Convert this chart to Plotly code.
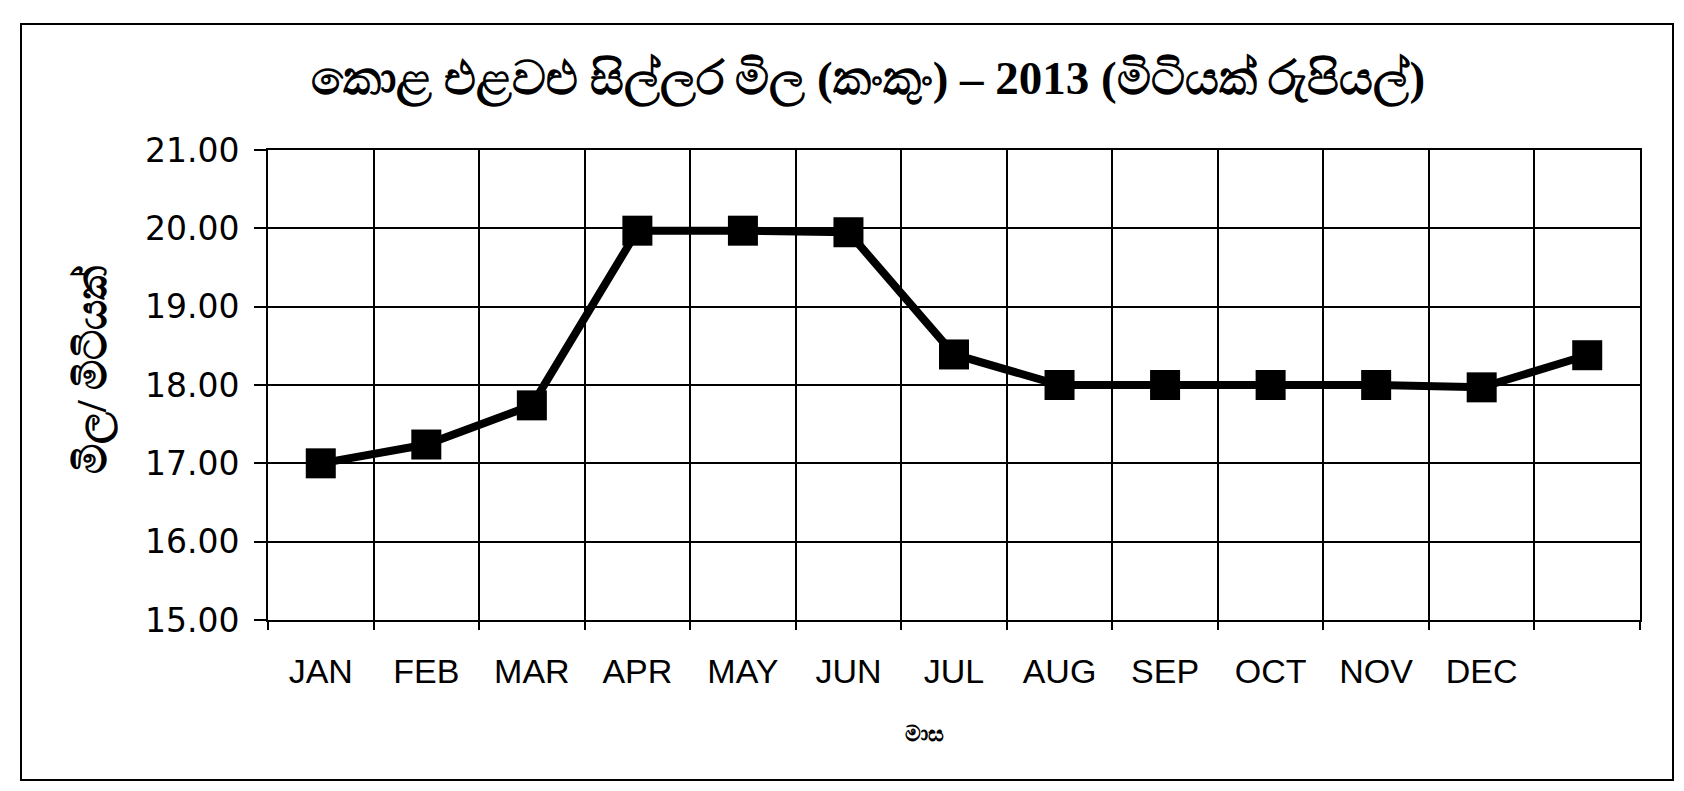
import plotly.graph_objects as go

months = ["JAN", "FEB", "MAR", "APR", "MAY", "JUN", "JUL", "AUG", "SEP", "OCT", "NOV", "DEC", " "]
prices = [17.00, 17.24, 17.74, 19.97, 19.97, 19.95, 18.39, 18.00, 18.00, 18.00, 18.00, 17.97, 18.38]
y_ticks = [15, 16, 17, 18, 19, 20, 21]

title_text = "කොළ එළවළු සිල්ලර මිල (කංකුං) – 2013 (මිටියක් රුපියල්)"
y_title = "මිල/ මිටියක්"
x_title = "මාස"

OFF = 8  # page body margin
W, H = 1684 - OFF, 791 - OFF
L = 268 - OFF
R = W - (1640 - OFF)
T = 150 - OFF
B = H - (620 - OFF)
pw, ph = W - L - R, H - T - B

def px(x):
    return (x - OFF - L) / pw

def py(y):
    return (H - B - (y - OFF)) / ph

fig = go.Figure()
fig.add_trace(go.Scatter(
    x=months, y=prices, mode="lines+markers",
    line=dict(color="black", width=8),
    marker=dict(symbol="square", size=30, color="black"),
    showlegend=False, hoverinfo="skip",
))

fig.update_layout(
    width=W, height=H,
    margin=dict(l=L, r=R, t=T, b=B),
    paper_bgcolor="white", plot_bgcolor="white",
    font=dict(family="DejaVu Sans", color="black"),
)
fig.update_xaxes(
    type="category", categoryorder="array", categoryarray=months,
    tickson="boundaries", ticks="outside", ticklen=8, tickcolor="black", tickwidth=1.5,
    showgrid=True, gridcolor="black", gridwidth=1.5,
    showline=True, linecolor="black", linewidth=2, mirror=True,
    tickfont=dict(family="Liberation Sans", size=34, color="black"),
    ticklabelstandoff=20,
    range=[-0.5, 12.5],
)
fig.update_yaxes(
    range=[15, 21], tickvals=y_ticks, tickformat=".2f",
    ticks="outside", ticklen=12, tickcolor="black", tickwidth=1.5,
    showgrid=True, gridcolor="black", gridwidth=1.5,
    showline=True, linecolor="black", linewidth=2, mirror=True,
    tickfont=dict(family="DejaVu Sans", size=33, color="black"),
    ticklabelstandoff=8,
    zeroline=False,
)

fig.add_annotation(text="<b>" + title_text + "</b>", xref="paper", yref="paper",
                   x=px(868), y=py(80), showarrow=False, xanchor="center", yanchor="middle",
                   font=dict(family="Liberation Serif", size=47, color="black"))
fig.add_annotation(text="<b>" + x_title + "</b>", xref="paper", yref="paper",
                   x=px(924), y=py(733), showarrow=False, xanchor="center", yanchor="middle",
                   font=dict(family="Liberation Serif", size=22, color="black"))
fig.add_annotation(text="<b>" + y_title + "</b>", xref="paper", yref="paper",
                   x=px(93), y=py(370), showarrow=False, xanchor="center", yanchor="middle",
                   textangle=-90,
                   font=dict(family="Liberation Serif", size=42, color="black"))

fig.add_shape(type="rect", xref="paper", yref="paper",
              x0=px(21), x1=px(1673), y0=py(780), y1=py(24),
              line=dict(color="black", width=2))

fig.write_html("out.html")
